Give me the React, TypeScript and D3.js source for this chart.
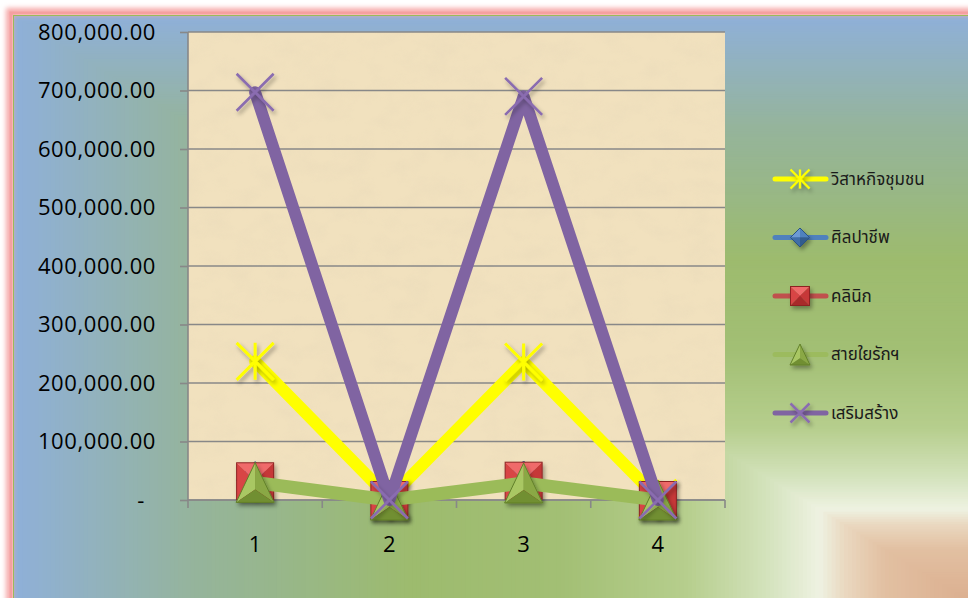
import React, { useEffect, useRef } from 'react';
import * as d3 from 'd3';

const categories = ['1', '2', '3', '4'];
const seriesNames = ['วิสาหกิจชุมชน', 'ศิลปาชีพ', 'คลินิก', 'สายใยรักฯ', 'เสริมสร้าง'];
const enterpriseValues = [237000, 3000, 236000, 3000];
const craftValues = [34000, 0, 35000, 0];
const clinicValues = [32000, 0, 33000, 0];
const lovingValues = [30000, 0, 29000, 0];
const promoteValues = [697000, 0, 690000, 0];
const yTicks = [0, 100000, 200000, 300000, 400000, 500000, 600000, 700000, 800000];

const W = 968;
const H = 598;

// background "from corner" gradient stops (t = 1 at top/left edge, 0 at bottom-right corner)
const bgStops: [number, string][] = [
  [0, '#d9a888'], [0.12, '#e2c0a2'], [0.16, '#ead8c0'], [0.185, '#eef2e2'],
  [0.24, '#d3e2bb'], [0.32, '#b6ce8d'], [0.45, '#a2bf74'], [0.6, '#9dbb6e'],
  [0.72, '#98b788'], [0.82, '#95b49c'], [1, '#8fb0d8'],
];

type Marker = 'star' | 'diamond' | 'square' | 'triangle' | 'x';

const App = () => {
  const ref = useRef<SVGSVGElement>(null);

  useEffect(() => {
    const series = [
      { name: seriesNames[0], values: enterpriseValues, color: '#ffff00', width: 12, marker: 'star' as Marker },
      { name: seriesNames[1], values: craftValues, color: '#4f81bd', width: 4, marker: 'diamond' as Marker },
      { name: seriesNames[2], values: clinicValues, color: '#c0504d', width: 4, marker: 'square' as Marker },
      { name: seriesNames[3], values: lovingValues, color: '#9bbb59', width: 13, marker: 'triangle' as Marker },
      { name: seriesNames[4], values: promoteValues, color: '#8064a2', width: 12, marker: 'x' as Marker },
    ];

    const left = 188, right = 725, top = 32, bottom = 500;

    const x = d3.scaleBand().domain(categories).range([left, right]).padding(0);
    const cx = (c: string) => (x(c) as number) + x.bandwidth() / 2;
    const y = d3.scaleLinear().domain([0, 800000]).range([bottom, top]);

    const svg = d3.select(ref.current);
    svg.selectAll('*').remove();

    const defs = svg.append('defs');
    const glow = defs.append('filter').attr('id', 'glow').attr('x', '-5%').attr('y', '-5%').attr('width', '110%').attr('height', '110%');
    glow.append('feGaussianBlur').attr('stdDeviation', 2.5);

    const shadow = defs.append('filter').attr('id', 'shadow').attr('x', '-50%').attr('y', '-50%').attr('width', '200%').attr('height', '200%');
    shadow.append('feDropShadow').attr('dx', 2).attr('dy', 3).attr('stdDeviation', 2).attr('flood-color', '#000').attr('flood-opacity', 0.35);

    // paper texture for the plot area
    const paper = defs.append('filter').attr('id', 'paper').attr('x', 0).attr('y', 0).attr('width', '100%').attr('height', '100%');
    paper.append('feTurbulence').attr('type', 'fractalNoise').attr('baseFrequency', '0.035 0.05').attr('numOctaves', 4).attr('seed', 11);
    paper.append('feColorMatrix').attr('type', 'matrix')
      .attr('values', '0 0 0 0 0.84  0 0 0 0 0.72  0 0 0 0 0.50  1.8 0 0 0 -0.72');
    paper.append('feComposite').attr('in2', 'SourceGraphic').attr('operator', 'in');

    svg.append('rect').attr('width', W).attr('height', H).attr('fill', '#fff');

    // rectangular gradient background
    const Cx = 1000, Cy = 620, x0 = 14, y0 = 16;
    const bgColor = d3.scaleLinear<string>()
      .domain(bgStops.map(s => s[0]))
      .range(bgStops.map(s => s[1]))
      .interpolate(d3.interpolateRgb);
    const steps = d3.range(240, 0, -1).map(i => i / 240);
    svg.append('g').selectAll('rect').data(steps).join('rect')
      .attr('x', t => Cx - t * (Cx - x0))
      .attr('y', t => Cy - t * (Cy - y0))
      .attr('width', t => t * (Cx - x0))
      .attr('height', t => t * (Cy - y0))
      .attr('fill', t => bgColor(t));

    // frame
    svg.append('rect').attr('x', 9.5).attr('y', 11.5).attr('width', 1100).attr('height', 700)
      .attr('fill', 'none').attr('stroke', '#f6a8a8').attr('stroke-width', 7).attr('filter', 'url(#glow)');
    svg.append('rect').attr('x', 11).attr('y', 13).attr('width', 1100).attr('height', 700)
      .attr('fill', 'none').attr('stroke', '#f5a0a0').attr('stroke-width', 3);
    svg.append('rect').attr('x', 13.5).attr('y', 15.5).attr('width', 1100).attr('height', 700)
      .attr('fill', 'none').attr('stroke', '#9bbb59').attr('stroke-width', 1);

    svg.append('rect').attr('x', left).attr('y', top).attr('width', right - left).attr('height', bottom - top)
      .attr('fill', '#f1e1be');
    svg.append('rect').attr('x', left).attr('y', top).attr('width', right - left).attr('height', bottom - top)
      .attr('fill', '#fff').attr('filter', 'url(#paper)').attr('opacity', 0.8);

    // gridlines
    svg.append('g').selectAll('line').data(yTicks).join('line')
      .attr('x1', left).attr('x2', right)
      .attr('y1', d => y(d)).attr('y2', d => y(d))
      .attr('stroke', '#888').attr('stroke-width', 1.6);

    const fontStack = "'Open Sans', 'Noto Sans', sans-serif";

    // y axis
    const yAxis = svg.append('g').attr('transform', `translate(${left},0)`)
      .call(d3.axisLeft(y).tickValues(yTicks).tickSize(8).tickPadding(24)
        .tickFormat(d => (+d === 0 ? '-' : d3.format(',.2f')(+d))));
    yAxis.select('.domain').attr('stroke', '#888').attr('stroke-width', 1.6).attr('d', `M0,${top}V${bottom}`);
    yAxis.selectAll('.tick line').attr('stroke', '#888').attr('stroke-width', 1.6);
    yAxis.selectAll('.tick text')
      .attr('font-family', fontStack).attr('font-size', 22).attr('fill', '#000')
      .attr('letter-spacing', 0.6)
      .attr('x', (d: any) => (+d === 0 ? -43 : -32));

    // x axis
    const xg = svg.append('g');
    xg.append('line').attr('x1', left).attr('x2', right).attr('y1', bottom).attr('y2', bottom)
      .attr('stroke', '#888').attr('stroke-width', 1.6);
    const bounds = categories.map(c => x(c) as number).concat([right]);
    xg.selectAll('line.tk').data(bounds).join('line').attr('class', 'tk')
      .attr('x1', d => d).attr('x2', d => d).attr('y1', bottom).attr('y2', bottom + 8)
      .attr('stroke', '#888').attr('stroke-width', 1.6);
    xg.selectAll('text').data(categories).join('text')
      .attr('x', d => cx(d)).attr('y', 544).attr('dy', '0.35em')
      .attr('text-anchor', 'middle')
      .attr('font-family', fontStack).attr('font-size', 22).attr('fill', '#000')
      .text(d => d);

    const drawMarker = (g: any, type: Marker, color: string, px: number, py: number, s: number) => {
      const m = g.append('g').attr('transform', `translate(${px},${py})`).attr('filter', 'url(#shadow)');
      const h = s / 2;
      if (type === 'star') {
        m.append('path').attr('d', `M${-h},${-h}L${h},${h}M${-h},${h}L${h},${-h}M0,${-h}V${h}`)
          .attr('stroke', color).attr('stroke-width', s > 25 ? 3 : 2.2).attr('fill', 'none');
      } else if (type === 'x') {
        m.append('path').attr('d', `M${-h},${-h}L${h},${h}M${-h},${h}L${h},${-h}`)
          .attr('stroke', '#8a6cb0').attr('stroke-width', s > 25 ? 2.6 : 2.5).attr('fill', 'none');
      } else if (type === 'square') {
        const facets = [
          [`M${-h},${-h}L${h},${-h}L0,0Z`, '#f06a6a'],
          [`M${-h},${-h}L${-h},${h}L0,0Z`, '#d84545'],
          [`M${h},${-h}L${h},${h}L0,0Z`, '#c63838'],
          [`M${-h},${h}L${h},${h}L0,0Z`, '#a82a2a'],
        ];
        facets.forEach(f => m.append('path').attr('d', f[0]).attr('fill', f[1]));
        m.append('rect').attr('x', -h).attr('y', -h).attr('width', s).attr('height', s)
          .attr('fill', 'none').attr('stroke', '#8e2424').attr('stroke-width', 1);
      } else if (type === 'triangle') {
        const th = s * 1.05 / 2;
        const c0 = th * 0.35;
        const facets = [
          [`M0,${-th}L${-h},${th}L0,${c0}Z`, '#a9c764'],
          [`M0,${-th}L${h},${th}L0,${c0}Z`, '#8aa845'],
          [`M${-h},${th}L${h},${th}L0,${c0}Z`, '#718f30'],
        ];
        facets.forEach(f => m.append('path').attr('d', f[0]).attr('fill', f[1]));
        m.append('path').attr('d', `M0,${-th}L${h},${th}L${-h},${th}Z`)
          .attr('fill', 'none').attr('stroke', '#62802a').attr('stroke-width', 1);
      } else if (type === 'diamond') {
        const facets = [
          [`M0,${-h}L${-h},0L0,0Z`, '#6d9ad4'],
          [`M0,${-h}L${h},0L0,0Z`, '#4f81bd'],
          [`M${-h},0L0,${h}L0,0Z`, '#3f6ea8'],
          [`M${h},0L0,${h}L0,0Z`, '#325b8e'],
        ];
        facets.forEach(f => m.append('path').attr('d', f[0]).attr('fill', f[1]));
        m.append('path').attr('d', `M0,${-h}L${h},0L0,${h}L${-h},0Z`)
          .attr('fill', 'none').attr('stroke', '#2c5282').attr('stroke-width', 1);
      }
    };

    const line = d3.line<number>().x((_, i) => cx(categories[i])).y(d => y(d));

    series.forEach(s => {
      const g = svg.append('g');
      g.append('path').attr('d', line(s.values))
        .attr('fill', 'none').attr('stroke', s.color).attr('stroke-width', s.width)
        .attr('stroke-linejoin', 'round').attr('stroke-linecap', 'round');
      s.values.forEach((v, i) => drawMarker(g, s.marker, s.color, cx(categories[i]), y(v), s.marker === 'triangle' ? 38 : 37));
    });

    // legend
    const legendY = d3.scalePoint().domain(seriesNames).range([179, 413]);
    const lg = svg.append('g');
    series.forEach(s => {
      const ly = legendY(s.name) as number;
      lg.append('line').attr('x1', 775).attr('x2', 826).attr('y1', ly).attr('y2', ly)
        .attr('stroke', s.color).attr('stroke-width', 5).attr('stroke-linecap', 'round')
        .attr('opacity', s.marker === 'triangle' ? 0.8 : 1);
      drawMarker(lg, s.marker, s.color, 800, ly, s.marker === 'triangle' ? 20 : 19);
      lg.append('text').attr('x', 831).attr('y', ly).attr('dy', '0.35em')
        .attr('font-family', "'Noto Sans Thai', Tahoma, 'Noto Sans', 'DejaVu Sans', sans-serif")
        .attr('font-size', 17).attr('fill', '#1a1a1a')
        .text(s.name);
    });
  }, []);

  return (
    <div style={{ position: 'absolute', left: 0, top: 0 }}>
      <svg ref={ref} width={W} height={H} style={{ display: 'block' }} />
    </div>
  );
};

export default App;
